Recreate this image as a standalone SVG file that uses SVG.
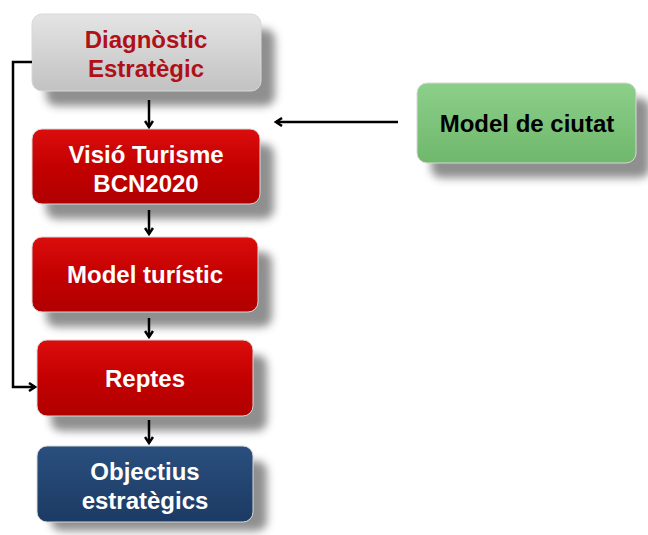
<svg xmlns="http://www.w3.org/2000/svg" width="648" height="535" viewBox="0 0 648 535">
<defs>
<filter id="sh" x="-20%" y="-20%" width="150%" height="160%">
<feGaussianBlur stdDeviation="4"/>
</filter>
<linearGradient id="gGray" x1="0" y1="0" x2="0" y2="1"><stop offset="0" stop-color="#e4e4e4"/><stop offset="1" stop-color="#c2c2c2"/></linearGradient>
<linearGradient id="gRed" x1="0" y1="0" x2="0" y2="1"><stop offset="0" stop-color="#dc0d0d"/><stop offset="0.5" stop-color="#c40000"/><stop offset="1" stop-color="#b00000"/></linearGradient>
<linearGradient id="gBlue" x1="0" y1="0" x2="0" y2="1"><stop offset="0" stop-color="#2a4f7e"/><stop offset="1" stop-color="#1c3a63"/></linearGradient>
<linearGradient id="gGreen" x1="0" y1="0" x2="0" y2="1"><stop offset="0" stop-color="#8ccf8a"/><stop offset="1" stop-color="#6fb86c"/></linearGradient>
<marker id="ah" markerWidth="10" markerHeight="10" refX="8" refY="5" orient="auto" markerUnits="userSpaceOnUse">
<polyline points="2,1 8,5 2,9" fill="none" stroke="#000" stroke-width="2.5"/>
</marker>
</defs>
<style>
.shadow{fill:#444;opacity:0.6;filter:url(#sh)}
.box{stroke:#d8d8d8;stroke-width:1}
.t{font-family:"Liberation Sans",Arial,sans-serif;font-weight:bold;font-size:24px;text-anchor:middle}
.w{fill:#ffffff}
.con{fill:none;stroke:#000;stroke-width:2.5;marker-end:url(#ah)}
</style>
<rect width="648" height="535" fill="#ffffff"/>
<g id="n-diagnostic">
<rect class="shadow" x="46" y="29" width="229" height="77" rx="10"/>
<rect class="box" x="32" y="14" width="229" height="77" rx="10" fill="url(#gGray)"/>
<text class="t" x="146" y="48" fill="#b01018">Diagnòstic</text>
<text class="t" x="146" y="77" fill="#b01018">Estratègic</text>
</g>
<g id="n-visio">
<rect class="shadow" x="46" y="144" width="228" height="75" rx="10"/>
<rect class="box" x="32" y="129" width="228" height="75" rx="10" fill="url(#gRed)"/>
<text class="t w" x="146" y="163">Visió Turisme</text>
<text class="t w" x="146" y="192">BCN2020</text>
</g>
<g id="n-model-turistic">
<rect class="shadow" x="46" y="252" width="226" height="75" rx="10"/>
<rect class="box" x="32" y="237" width="226" height="75" rx="10" fill="url(#gRed)"/>
<text class="t w" x="145" y="283">Model turístic</text>
</g>
<g id="n-reptes">
<rect class="shadow" x="51" y="355" width="216" height="76" rx="10"/>
<rect class="box" x="37" y="340" width="216" height="76" rx="10" fill="url(#gRed)"/>
<text class="t w" x="145" y="387">Reptes</text>
</g>
<g id="n-objectius">
<rect class="shadow" x="51" y="461" width="216" height="70" rx="10"/>
<rect class="box" x="37" y="446" width="216" height="76" rx="10" fill="url(#gBlue)"/>
<text class="t w" x="145" y="480">Objectius</text>
<text class="t w" x="145" y="509">estratègics</text>
</g>
<g id="n-model-ciutat">
<rect class="shadow" x="431" y="98" width="219" height="80" rx="10"/>
<rect class="box" x="417" y="83" width="219" height="80" rx="10" fill="url(#gGreen)"/>
<text class="t" x="527" y="132" fill="#000">Model de ciutat</text>
</g>
<g id="connectors">
<path class="con" d="M149,100 V127"/>
<path class="con" d="M149,210 V234"/>
<path class="con" d="M149,318 V337"/>
<path class="con" d="M149,420 V443"/>
<path class="con" d="M398,122 H276"/>
<path class="con" d="M32,62 H13 V387 H35"/>
</g>
</svg>
